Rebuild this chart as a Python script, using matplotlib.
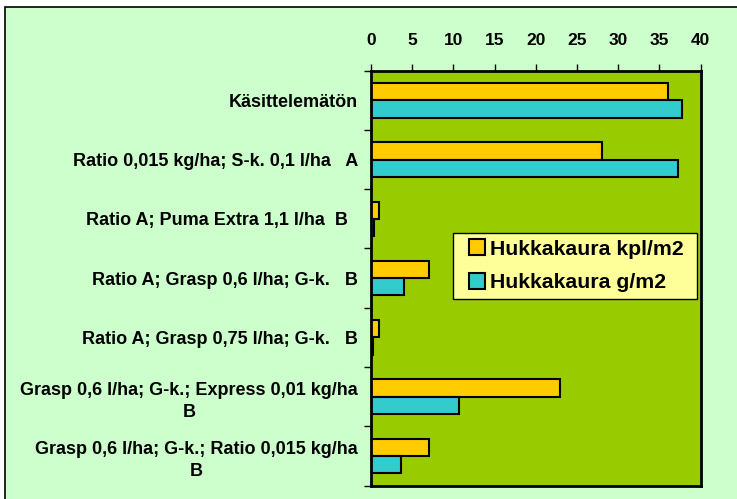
import matplotlib.pyplot as plt
import matplotlib.patches as patches
from matplotlib.lines import Line2D
import numpy as np

plt.rcParams['font.family'] = ['Liberation Sans', 'DejaVu Sans']
plt.rcParams['font.weight'] = 'bold'

# data
categories = [
    "Käsittelemätön",
    "Ratio 0,015 kg/ha; S-k. 0,1 l/ha   A",
    "Ratio A; Puma Extra 1,1 l/ha  B  ",
    "Ratio A; Grasp 0,6 l/ha; G-k.   B",
    "Ratio A; Grasp 0,75 l/ha; G-k.   B",
    "Grasp 0,6 l/ha; G-k.; Express 0,01 kg/ha\nB",
    "Grasp 0,6 l/ha; G-k.; Ratio 0,015 kg/ha\nB",
]
kpl = [36.0, 28.0, 1.0, 7.0, 1.0, 23.0, 7.0]
grams = [37.8, 37.3, 0.4, 4.0, 0.3, 10.7, 3.7]
series_names = ["Hukkakaura kpl/m2 ", "Hukkakaura g/m2 "]
colors = ["#FFCC00", "#33CCCC"]
xticks = [0, 5, 10, 15, 20, 25, 30, 35, 40]

fig = plt.figure(figsize=(7.37, 4.99), dpi=100)
fig.patch.set_facecolor("white")

# light green chart area with black border
border = patches.Rectangle((5 / 737, -0.1), 1.2, 1 - 7 / 499 + 0.1,
                           transform=fig.transFigure, facecolor="#CCFFCC",
                           edgecolor="black", linewidth=1.2, zorder=-5)
fig.patches.append(border)

ax = fig.add_axes([371 / 737, 1 - 485.5 / 499, 329.5 / 737, 414.8 / 499])
ax.set_facecolor("#99CC00")

y = np.arange(len(categories))
h = 0.29
ax.barh(y - h / 2, kpl, height=h, color=colors[0], edgecolor="black",
        linewidth=1.5)
ax.barh(y + h / 2, grams, height=h, color=colors[1], edgecolor="black",
        linewidth=1.5)

ax.set_xlim(0, 40)
ax.set_ylim(len(categories) - 0.5, -0.5)
ax.xaxis.tick_top()
ax.set_xticks(xticks)
ax.set_xticklabels([str(t) for t in xticks], fontsize=12.5, fontweight="bold")
ax.tick_params(axis="x", length=5, width=1, pad=11)

# tick marks between categories, labels at centres
ax.set_yticks(np.arange(len(categories) + 1) - 0.5)
ax.set_yticklabels([])
ax.set_yticks(y, minor=True)
ax.set_yticklabels(categories, minor=True, fontsize=13, fontweight="bold")
ax.tick_params(axis="y", which="major", length=5, width=1)
ax.tick_params(axis="y", which="minor", length=0, pad=9.5)
for lab in ax.get_yticklabels(minor=True):
    lab.set_multialignment("center")
    lab.set_linespacing(1.4)

for s in ax.spines.values():
    s.set_linewidth(2)

# legend with small square keys
handles = [Line2D([], [], marker="s", markersize=11.5, markerfacecolor=c,
                  markeredgecolor="black", markeredgewidth=1.5,
                  linestyle="none") for c in colors]
leg = ax.legend(handles, series_names, loc="upper right",
                bbox_to_anchor=(0.988, 0.609), borderaxespad=0,
                prop={"size": 15.3, "weight": "bold"}, frameon=True,
                fancybox=False, facecolor="#FFFF99", edgecolor="black",
                framealpha=1, handlelength=1.6, handletextpad=-0.2,
                borderpad=0.33, labelspacing=0.67)
leg.get_frame().set_linewidth(1)

fig.savefig("out.png", dpi=100, facecolor=fig.get_facecolor())
